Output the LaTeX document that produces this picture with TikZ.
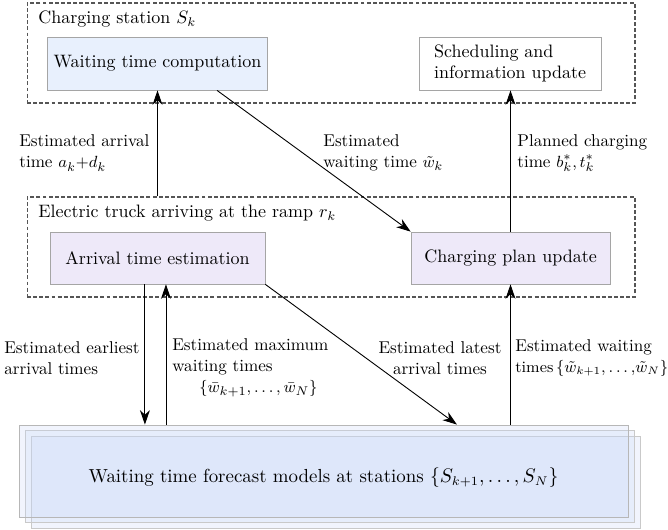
\documentclass[tikz,border=0pt]{standalone}
\usepackage{tikz}
\usetikzlibrary{arrows.meta,shadows}
\definecolor{waitblue}{RGB}{232,240,253}
\definecolor{planlilac}{RGB}{238,233,249}
\definecolor{fcblue}{RGB}{198,213,246}
\definecolor{framegray}{RGB}{85,85,85}
\definecolor{boxgray}{RGB}{165,165,165}

\begin{document}
\begin{tikzpicture}[
    x=0.556pt, y=-0.556pt,
    frame/.style={draw=framegray, line width=0.6pt, dash pattern=on 2.2pt off 1.2pt,
      minimum width=338pt, minimum height=55.6pt},
    framename/.style={anchor=west, inner sep=0pt},
    process/.style={draw=boxgray, minimum height=29.5pt},
    compute/.style={process, fill=waitblue},
    truckstep/.style={process, fill=planlilac, minimum height=28.9pt},
    forecast/.style={draw=boxgray!80, fill=fcblue, fill opacity=.25, text opacity=1,
      font=\fontsize{10.5}{12.6}\selectfont, text height=15pt, text depth=2.5pt,
      minimum width=338.6pt, minimum height=51.2pt,
      copy shadow={shadow xshift=6.7pt, shadow yshift=-6.1pt, draw=boxgray!60, fill=fcblue, fill opacity=.25},
      copy shadow={shadow xshift=3.3pt, shadow yshift=-3.1pt, draw=boxgray!60, fill=fcblue, fill opacity=.25}},
    info/.style={inner sep=0pt, align=left, anchor=west, font=\fontsize{9.5}{11.7}\selectfont},
    flow/.style={-{Stealth[length=8pt, width=5.5pt, inset=2.5pt]}, line width=0.5pt},
  ]
  \useasboundingbox (0,0) rectangle (668,529);

  \node[frame] (station) at (331,53) {};
  \node[framename] (stationname) at (38,19) {Charging station $S_k$};
  \node[compute, minimum width=119.5pt] (wait) at (157.5,63.5) {Waiting time computation};
  \node[process, minimum width=101.2pt, align=left] (sched) at (510,63.5) {Scheduling and\\information update};

  \node[frame] (truck) at (331,247) {};
  \node[framename] (truckname) at (38,213) {Electric truck arriving at the ramp $r_k$};
  \node[truckstep, minimum width=119.5pt] (arrival) at (157.5,258) {Arrival time estimation};
  \node[truckstep, minimum width=110.6pt] (plan) at (510.5,258) {Charging plan update};

  \node[forecast] (fc) at (323.5,471) {Waiting time forecast models at stations $\{S_{k+1},\ldots,S_N\}$};

  \draw[flow] (wait.south |- truck.north) -- (wait.south);
  \draw[flow] ([xshift=33.1pt]wait.south) -- (plan.north west);
  \draw[flow] (plan.north) -- (plan.north |- sched.south);
  \draw[flow] ([xshift=-7pt]arrival.south) -- ([xshift=-7pt]arrival.south |- fc.north);
  \draw[flow] ([xshift=4.7pt]arrival.south |- fc.north) -- ([xshift=4.7pt]arrival.south);
  \draw[flow] (arrival.south east) -- ([xshift=74.2pt]fc.north);
  \draw[flow] (plan.south |- fc.north) -- (plan.south);

  \node[info] (arrivalnote) at (19,153) {Estimated arrival\\time $a_k{+}d_k$};
  \node[info] (waitnote) at (323,153) {Estimated\\waiting time $\tilde{w}_k$};
  \node[info] (plannote) at (517,153) {Planned charging\\time $b_k^*, t_k^*$};
  \node[info] (earlynote) at (4,358) {Estimated earliest\\arrival times};
  \node[info] (maxnote) at (172,368) {Estimated maximum\\waiting times\\\hspace*{15pt}$\{\bar{w}_{k+1},\ldots,\bar{w}_N\}$};
  \node[info, anchor=center, align=center] (latenote) at (440,358) {Estimated latest\\arrival times};
  \node[info] (waitsnote) at (515,358) {Estimated waiting\\{\fontsize{8.8}{11.7}\selectfont times\,$\{\tilde{w}_{k+1}{,}\ldots{,}\tilde{w}_N\}$}};
\end{tikzpicture}
\end{document}
